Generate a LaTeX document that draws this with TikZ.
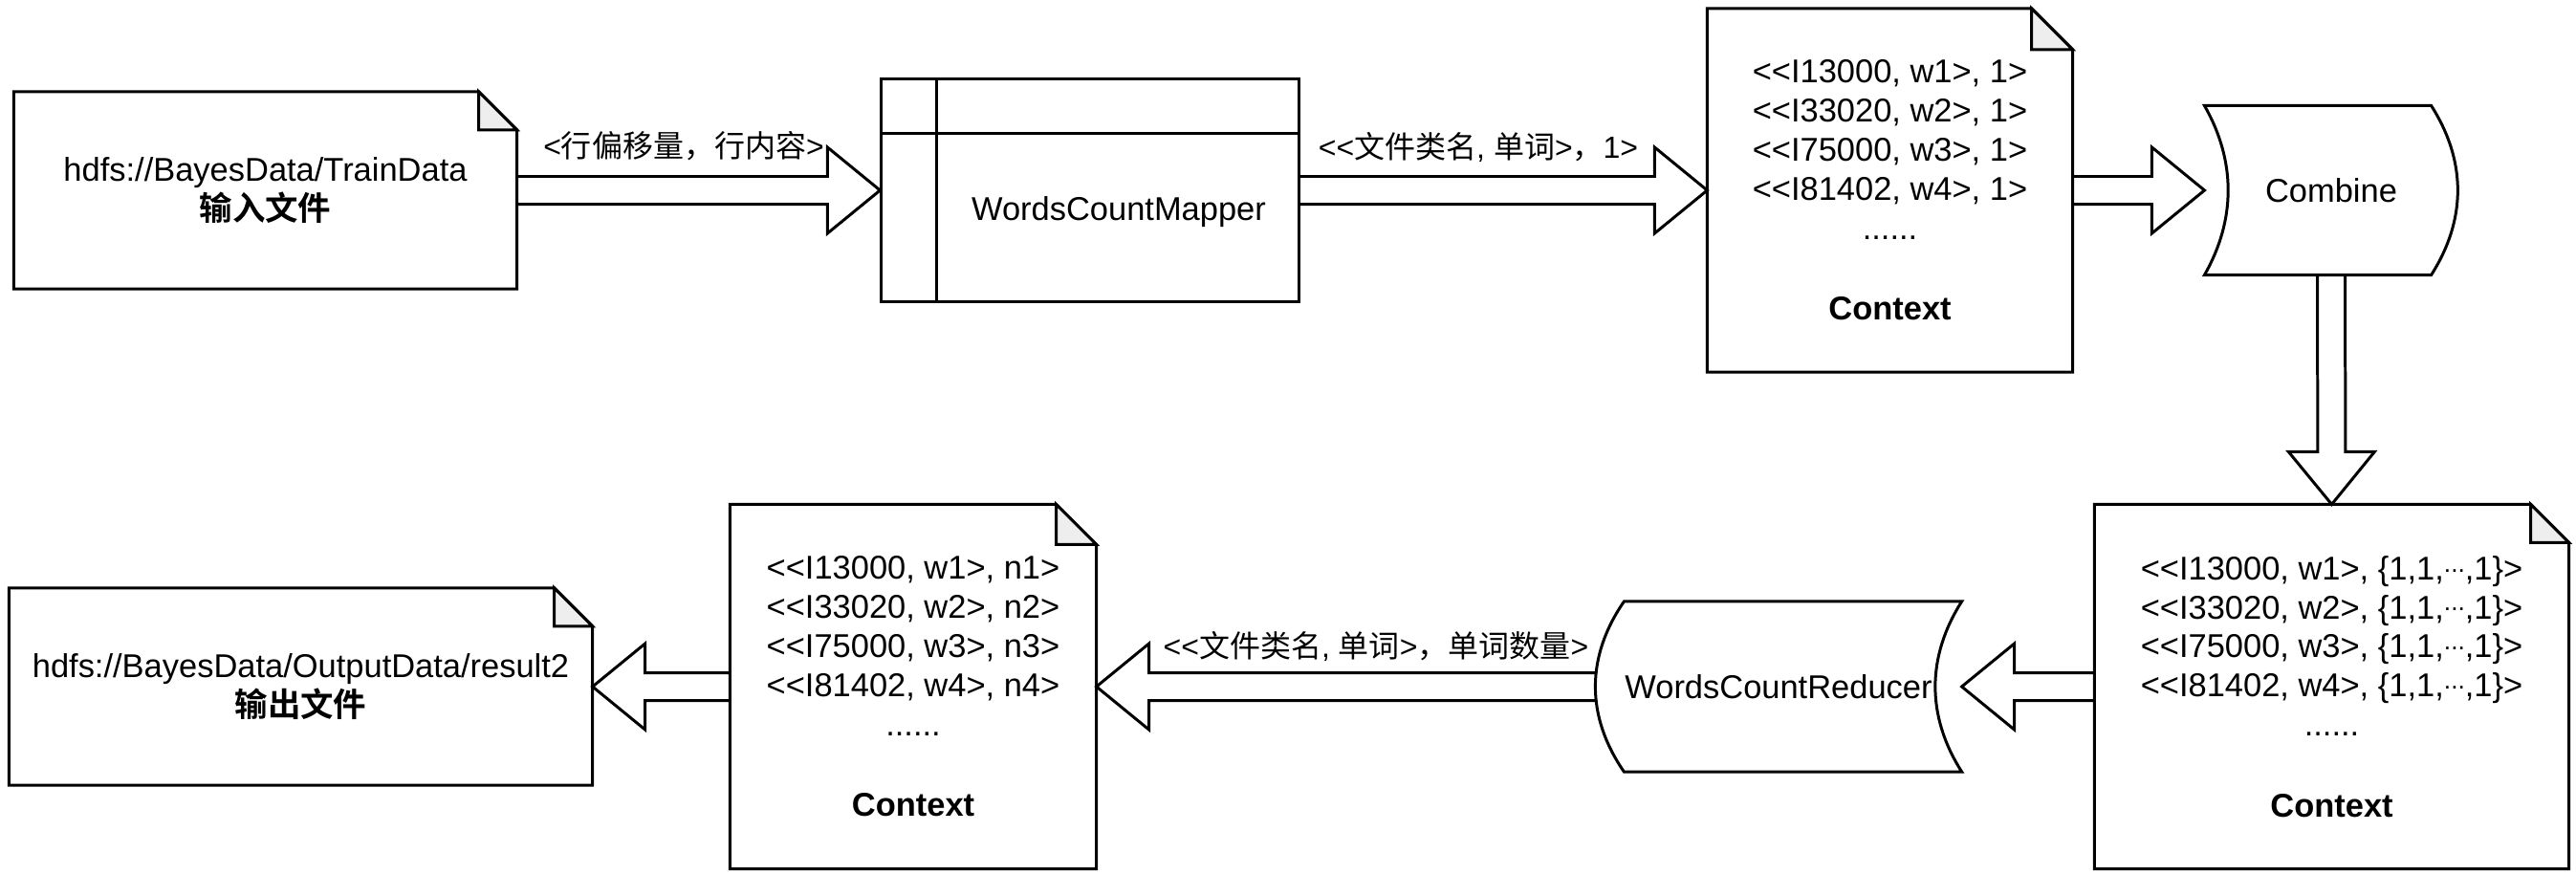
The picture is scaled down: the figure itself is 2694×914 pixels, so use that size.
\documentclass[tikz,border=0pt]{standalone}
\usepackage{fontspec}
\setmainfont{Liberation Sans}[Ligatures=TeXOff]
\newfontfamily\cjk{Noto Sans CJK SC}[BoldFont={Noto Sans CJK SC Bold}]
\usetikzlibrary{calc}
\definecolor{foldgray}{HTML}{EEEEEE}

\newcommand{\zh}[1]{{\cjk #1}}
\newcommand{\mdots}{\raisebox{0.24em}{\fontsize{7.5pt}{7.5pt}\selectfont...}}
\newcommand{\fatarrow}[2]{%
	\coordinate (fa-h) at ($(#2)!0.55cm!(#1)$);
	\draw[fatline] ($(#1)!0.145cm!90:(#2)$) -- ($(fa-h)!0.145cm!90:(#2)$) -- ($(fa-h)!0.45cm!90:(#2)$) -- (#2)
		-- ($(fa-h)!0.45cm!-90:(#2)$) -- ($(fa-h)!0.145cm!-90:(#2)$) -- ($(#1)!0.145cm!-90:(#2)$);}

\begin{document}
\begin{tikzpicture}[x=0.01cm, y=-0.01cm, line width=0.85pt]
			\path[fill=white] (0,0) rectangle (2694,914);
			% Define the styles
			\tikzstyle{docnote} = [inner sep=0pt, align=center, font=\fontsize{9.8pt}{11.6pt}\selectfont];
			\tikzstyle{fatline} = [draw, line join=miter];
			\tikzstyle{lbl} = [anchor=base, inner sep=0pt, font=\fontsize{9.1pt}{11pt}\selectfont];
			
			% Files and contexts
			\node[docnote, minimum width=5.23cm, minimum height=2.03cm] (inp) at (277.5,199) {hdfs://BayesData/TrainData\\\zh{\bfseries 输入文件}};
			\node[docnote, minimum width=3.79cm, minimum height=3.77cm] (ctxa) at (1976.5,199) {<<I13000, w1>, 1>\\<<I33020, w2>, 1>\\<<I75000, w3>, 1>\\<<I81402, w4>, 1>\\......\\[0.44cm]\textbf{Context}};
			\node[docnote, minimum width=4.93cm, minimum height=3.78cm] (ctxc) at (2438.5,718) {<<I13000, w1>, \{1,1,\mdots,1\}>\\<<I33020, w2>, \{1,1,\mdots,1\}>\\<<I75000, w3>, \{1,1,\mdots,1\}>\\<<I81402, w4>, \{1,1,\mdots,1\}>\\......\\[0.44cm]\textbf{Context}};
			\node[docnote, minimum width=3.8cm, minimum height=3.78cm] (ctxb) at (955,718) {<<I13000, w1>, n1>\\<<I33020, w2>, n2>\\<<I75000, w3>, n3>\\<<I81402, w4>, n4>\\......\\[0.44cm]\textbf{Context}};
			\node[docnote, minimum width=6.07cm, minimum height=2.03cm] (outp) at (314.5,718) {hdfs://BayesData/OutputData/result2\\\zh{\bfseries 输出文件}};
			
			% Page outlines with folded corner
			\foreach \n/\f in {inp/40, ctxa/43, ctxc/40, ctxb/42, outp/40} {
				\draw (\n.north west) -- ($(\n.north east)+(-\f,0)$) -- ($(\n.north east)+(0,\f)$) -- (\n.south east) -- (\n.south west) -- cycle;
				\draw[fill=foldgray] ($(\n.north east)+(-\f,0)$) -- ($(\n.north east)+(-\f,\f)$) -- ($(\n.north east)+(0,\f)$) -- cycle;
			}
			
			% Mapper
			\node[draw, minimum width=4.36cm, minimum height=2.32cm, inner sep=0pt] (map) at (1140,199) {};
			\draw ($(map.north west)+(59,0)$) -- ($(map.south west)+(59,0)$);
			\draw ($(map.north west)+(0,58)$) -- ($(map.north east)+(0,58)$);
			\node[docnote] (maptxt) at (1170,222) {WordsCountMapper};
			
			% Combine and Reducer
			\node[docnote, minimum width=2.62cm, minimum height=1.74cm] (comb) at (2438,199) {Combine};
			\draw (comb.north west) .. controls ($(comb.north west)+(33,58)$) and ($(comb.south west)+(33,-58)$) .. (comb.south west)
				-- ($(comb.south east)+(-28,0)$) .. controls ($(comb.south east)+(9,-58)$) and ($(comb.north east)+(9,58)$) .. ($(comb.north east)+(-28,0)$) -- cycle;
			\node[docnote, minimum width=3.8cm, minimum height=1.75cm] (red) at (1860,718) {WordsCountReducer};
			\draw ($(red.north west)+(30,0)$) -- (red.north east) .. controls ($(red.north east)+(-37,58)$) and ($(red.south east)+(-37,-58)$) .. (red.south east)
				-- ($(red.south west)+(30,0)$) .. controls ($(red.south west)+(-10,-58)$) and ($(red.north west)+(-10,58)$) .. cycle;
			
			% Block arrows
			\foreach \a/\b in {inp.east/map.west, map.east/ctxa.west, ctxa.east/comb.west, comb.south/ctxc.north,
				ctxc.west/red.east, red.west/ctxb.east, ctxb.west/outp.east}
			\fatarrow{\a}{\b};
			
			\node[lbl] (lab1) at (715,164) {<\zh{行偏移量，行内容}>};
			\node[lbl] (lab2) at (1546,165) {<<\zh{文件类名}, \zh{单词}>\zh{，}1>};
			\node[lbl] (lab5) at (1439,687) {<<\zh{文件类名}, \zh{单词}>\zh{，单词数量}>};
		\end{tikzpicture}
\end{document}
